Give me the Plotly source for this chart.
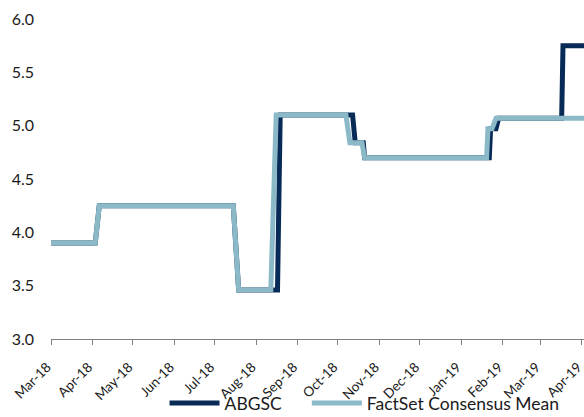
import plotly.graph_objects as go

# ABGSC estimate path (breakpoints of the stepped series)
abgsc_dates = [
    "2018-03-01", "2018-04-03", "2018-04-06", "2018-07-15", "2018-07-19",
    "2018-08-17", "2018-08-19", "2018-10-12", "2018-10-14", "2018-10-20",
    "2018-10-21", "2019-01-22", "2019-01-23", "2019-01-27", "2019-01-29",
    "2019-03-17", "2019-03-18", "2019-04-03",
]
abgsc_values = [
    3.90, 3.90, 4.25, 4.25, 3.46,
    3.46, 5.10, 5.10, 4.84, 4.84,
    4.70, 4.70, 4.97, 4.97, 5.07,
    5.07, 5.75, 5.75,
]

# FactSet consensus mean path
consensus_dates = [
    "2018-03-01", "2018-04-03", "2018-04-06", "2018-07-15", "2018-07-19",
    "2018-08-12", "2018-08-16", "2018-10-07", "2018-10-10", "2018-10-19",
    "2018-10-21", "2019-01-20", "2019-01-21", "2019-01-24", "2019-01-27",
    "2019-04-03",
]
consensus_values = [
    3.90, 3.90, 4.25, 4.25, 3.46,
    3.46, 5.10, 5.10, 4.84, 4.84,
    4.70, 4.70, 4.97, 4.97, 5.07,
    5.07,
]

# Monthly ticks on the date axis
x_ticks = [
    "2018-03-01", "2018-04-01", "2018-05-01", "2018-06-01", "2018-07-01",
    "2018-08-01", "2018-09-01", "2018-10-01", "2018-11-01", "2018-12-01",
    "2019-01-01", "2019-02-01", "2019-03-01", "2019-04-01",
]
x_tick_labels = [
    "Mar-18", "Apr-18", "May-18", "Jun-18", "Jul-18", "Aug-18", "Sep-18",
    "Oct-18", "Nov-18", "Dec-18", "Jan-19", "Feb-19", "Mar-19", "Apr-19",
]
y_ticks = [3.0, 3.5, 4.0, 4.5, 5.0, 5.5, 6.0]
y_tick_labels = ["3.0", "3.5", "4.0", "4.5", "5.0", "5.5", "6.0"]

DARK = "#082a56"
LIGHT = "#8cb9c8"
FONT = "Lato"
TEXT = "#1a1a1a"

fig = go.Figure()
fig.add_trace(go.Scatter(
    x=abgsc_dates, y=abgsc_values, name="ABGSC", mode="lines",
    line=dict(color=DARK, width=5), legend="legend",
))
fig.add_trace(go.Scatter(
    x=consensus_dates, y=consensus_values, name="FactSet Consensus Mean",
    mode="lines", line=dict(color=LIGHT, width=5), legend="legend2",
))

legend_style = dict(
    orientation="h", xanchor="left", y=-0.20, yanchor="middle",
    font=dict(family=FONT, size=17.5, color=TEXT),
    itemwidth=50, bgcolor="rgba(0,0,0,0)",
)

fig.update_layout(
    width=584, height=417,
    margin=dict(l=51, r=0, t=19, b=78, autoexpand=False),
    paper_bgcolor="white", plot_bgcolor="white",
    font=dict(family=FONT, size=16, color=TEXT),
    showlegend=True,
    legend=dict(x=0.213, **legend_style),
    legend2=dict(x=0.480, **legend_style),
)
fig.update_xaxes(
    type="date", automargin=False,
    range=["2018-03-01", "2019-04-02 16:00"],
    tickvals=x_ticks, ticktext=x_tick_labels,
    tickangle=-45, tickfont=dict(family=FONT, size=13.5, color=TEXT),
    ticklabeloverflow="allow", ticklabelstandoff=9, ticklabelshift=-4,
    showline=True, linecolor="#808080", linewidth=1,
    ticks="outside", ticklen=5, tickcolor="#808080",
    showgrid=False, zeroline=False,
)
fig.update_yaxes(
    range=[3, 6], tickvals=y_ticks, ticktext=y_tick_labels, automargin=False,
    tickfont=dict(family=FONT, size=16, color=TEXT),
    showline=False, showgrid=False, zeroline=False,
    ticks="", ticklabelstandoff=16,
)

fig.write_html("out.html")
